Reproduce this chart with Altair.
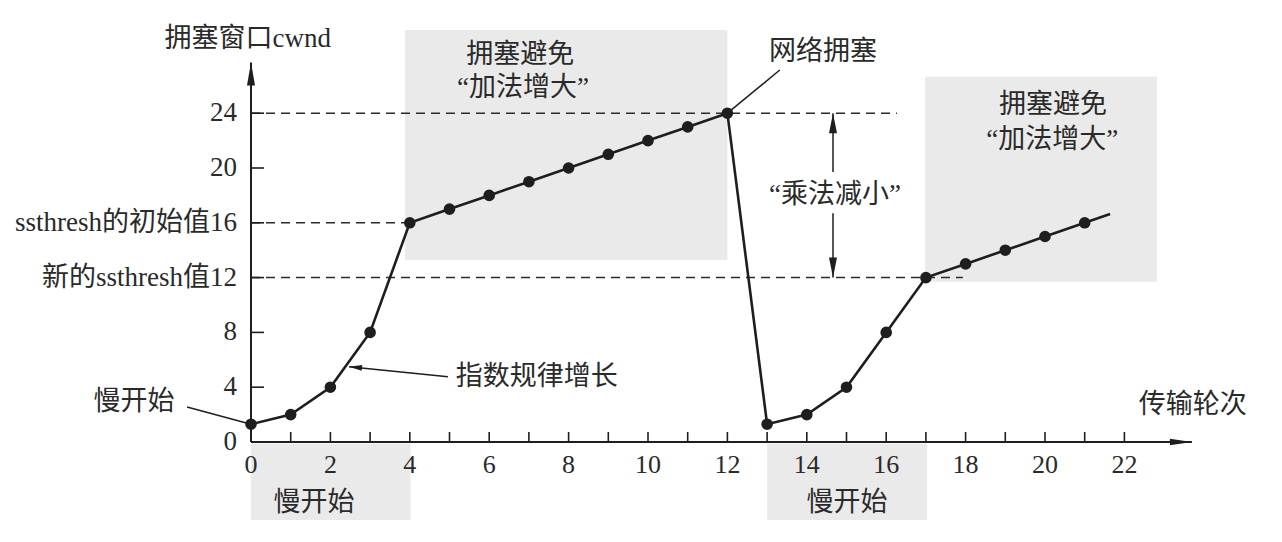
import altair as alt
import pandas as pd

# ---------------- data ----------------
rounds_a = list(range(0, 13))
cwnd_a = [1.3, 2, 4, 8, 16, 17, 18, 19, 20, 21, 22, 23, 24]
rounds_b = list(range(13, 22))
cwnd_b = [1.3, 2, 4, 8, 12, 13, 14, 15, 16]
tail_round = [21.64]
tail_cwnd = [16.64]

x_tick_values = list(range(1, 23))
x_label_values = list(range(0, 23, 2))
y_tick_values = [4, 8, 12, 16, 20, 24]
y_label_values = [0, 4, 8, 12, 16, 20, 24]
y_label_texts = ["0", "4", "8", "新的ssthresh值12", "ssthresh的初始值16", "20", "24"]

# shaded phase boxes
box_x = [3.88, 16.98, 0.0, 13.0]
box_x2 = [12.0, 22.82, 4.02, 17.03]
box_y = [13.28, 11.70, -5.69, -5.69]
box_y2 = [30.07, 26.66, -0.12, -0.12]

# dashed reference lines
dash_y = [24, 16, 12]
dash_x_end = [16.27, 4, 17.93]

# annotation texts
ann_text = ["拥塞窗口cwnd", "传输轮次", "网络拥塞", "拥塞避免", "“加法增大”",
            "拥塞避免", "“加法增大”", "“乘法减小”", "指数规律增长",
            "慢开始", "慢开始", "慢开始"]
ann_x = [-0.08, 23.72, 14.41, 6.78, 6.85, 20.20, 20.18, 14.71, 7.20, -2.95, 1.59, 15.01]
ann_y = [29.42, 2.70, 28.49, 28.25, 25.84, 24.60, 22.04, 18.03, 4.74, 2.92, -4.45, -4.45]

# leader / arrow lines
lead_x = [12.0, -1.61, 4.96, 14.66, 14.66, 0.0, 0.0]
lead_y = [24.0, 2.55, 4.77, 24.0, 16.7, 0.0, 0.0]
lead_x2 = [13.32, 0.0, 2.47, 14.66, 14.66, 23.7, 0.0]
lead_y2 = [27.15, 1.3, 5.5, 19.7, 12.0, 0.0, 27.7]
lead_w = [1.5, 1.5, 1.5, 1.5, 1.5, 2.0, 2.0]

# ---------------- scales ----------------
PX_X0, PX_PER_X = 251.0, 39.7
PX_Y0, PX_PER_Y = 442.0, 13.7
W, H = 1282, 542
XD = [-PX_X0 / PX_PER_X, (W - PX_X0) / PX_PER_X]
YD = [-(H - PX_Y0) / PX_PER_Y, PX_Y0 / PX_PER_Y]

xs = alt.Scale(domain=XD, nice=False, zero=False)
ys = alt.Scale(domain=YD, nice=False, zero=False)


def X(f):
    return alt.X(f, type="quantitative", scale=xs, axis=None)


def Y(f):
    return alt.Y(f, type="quantitative", scale=ys, axis=None)


INK = "#1e1e1e"
TXT = "#2a2a2a"
SERIF = "Liberation Serif, Noto Sans CJK SC"

# ---------------- tables ----------------
line_df = pd.DataFrame({
    "r": rounds_a + rounds_b + tail_round,
    "c": cwnd_a + cwnd_b + tail_cwnd,
})
line_df["o"] = range(len(line_df))
pts_df = pd.DataFrame({"r": rounds_a + rounds_b, "c": cwnd_a + cwnd_b})
box_df = pd.DataFrame({"x": box_x, "x2": box_x2, "y": box_y, "y2": box_y2})
dash_df = pd.DataFrame({"y": dash_y, "x": [0] * len(dash_y), "x2": dash_x_end})
ann_df = pd.DataFrame({"t": ann_text, "x": ann_x, "y": ann_y})
lead_df = pd.DataFrame({"x": lead_x, "y": lead_y, "x2": lead_x2, "y2": lead_y2, "w": lead_w})
xt_df = pd.DataFrame({"x": x_tick_values, "y": [0] * len(x_tick_values),
                      "y2": [10 / PX_PER_Y] * len(x_tick_values)})
yt_df = pd.DataFrame({"y": y_tick_values, "x": [0] * len(y_tick_values),
                      "x2": [13 / PX_PER_X] * len(y_tick_values)})
xl_df = pd.DataFrame({"x": x_label_values, "y": [-1.68] * len(x_label_values),
                      "t": [str(v) for v in x_label_values]})
yl_df = pd.DataFrame({"y": y_label_values, "x": [-0.35] * len(y_label_values),
                      "t": y_label_texts})

# ---------------- layers ----------------
boxes = alt.Chart(box_df).mark_rect(color="#eaeaea").encode(
    x=X("x"), x2="x2", y=Y("y"), y2="y2")

dashes = alt.Chart(dash_df).mark_rule(color="#2a2a2a", strokeWidth=1.5,
                                      strokeDash=[9, 6]).encode(
    x=X("x"), x2="x2", y=Y("y"))

leads = alt.Chart(lead_df).mark_rule(color=INK).encode(
    x=X("x"), y=Y("y"), x2="x2", y2="y2",
    strokeWidth=alt.StrokeWidth("w:Q", scale=None))

xticks = alt.Chart(xt_df).mark_rule(color=INK, strokeWidth=1.6).encode(
    x=X("x"), y=Y("y"), y2="y2")
yticks = alt.Chart(yt_df).mark_rule(color=INK, strokeWidth=1.6).encode(
    y=Y("y"), x=X("x"), x2="x2")

cwnd_line = alt.Chart(line_df).mark_line(color=INK, strokeWidth=2.6).encode(
    x=X("r"), y=Y("c"), order="o:Q")
cwnd_pts = alt.Chart(pts_df).mark_circle(color=INK, size=135, opacity=1).encode(
    x=X("r"), y=Y("c"))


def head(xv, yv, path, size, angle=0):
    df = pd.DataFrame({"x": [xv], "y": [yv]})
    return alt.Chart(df).mark_point(shape=path, size=size, filled=True,
                                    color=INK, opacity=1, angle=angle,
                                    strokeWidth=0).encode(x=X("x"), y=Y("y"))


heads = [
    head(0.0, 27.7, "M0,0L0.35,2L-0.35,2Z", 529),          # y axis
    head(23.7, 0.0, "M0,0L-2,-0.3L-2,0.3Z", 484),           # x axis
    head(14.66, 24.0, "M0,0L0.4,2L-0.4,2Z", 400),           # up
    head(14.66, 12.0, "M0,0L0.4,-2L-0.4,-2Z", 400),         # down
    head(2.47, 5.5, "M0,0L-2,-0.45L-2,0.45Z", 169, 185.8),  # 指数 arrow
]

ann = alt.Chart(ann_df).mark_text(font=SERIF, fontSize=27, color=TXT,
                                  align="center", baseline="middle").encode(
    x=X("x"), y=Y("y"), text="t:N")

xlabels = alt.Chart(xl_df).mark_text(font=SERIF, fontSize=26, color=TXT,
                                     align="center", baseline="middle").encode(
    x=X("x"), y=Y("y"), text="t:N")
ylabels = alt.Chart(yl_df).mark_text(font=SERIF, fontSize=27, color=TXT,
                                     align="right", baseline="middle").encode(
    x=X("x"), y=Y("y"), text="t:N")

chart = alt.layer(
    boxes, dashes, xticks, yticks, leads, cwnd_line, cwnd_pts,
    *heads, ann, xlabels, ylabels
).properties(
    width=W, height=H, padding=0, autosize="none", background="white"
).configure_view(stroke=None)

chart.save("out.html", embed_options={"renderer": "svg", "actions": False})
